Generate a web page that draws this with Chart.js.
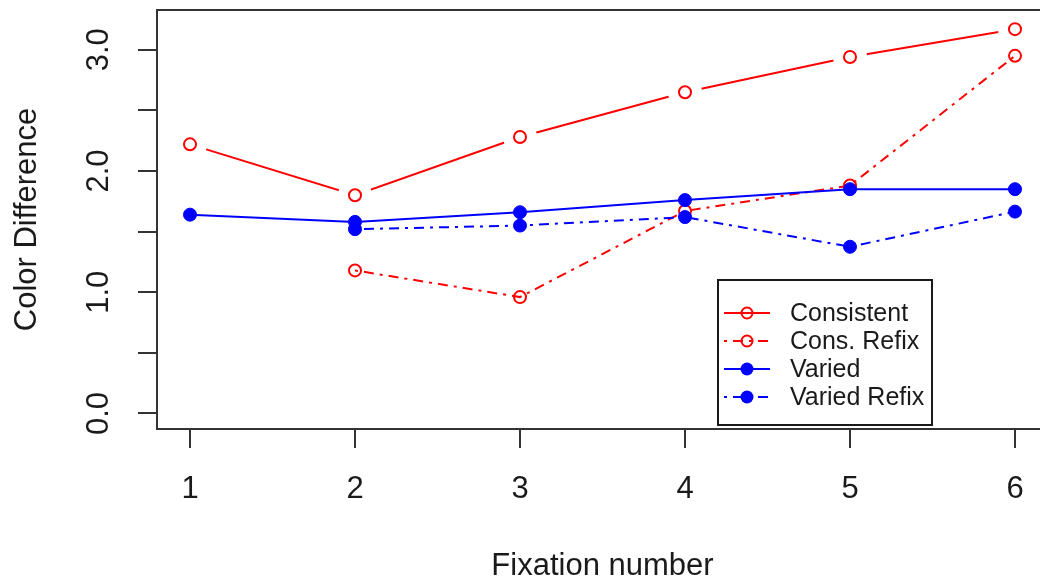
<!DOCTYPE html>
<html>
<head>
<meta charset="utf-8">
<title>Color Difference by Fixation number</title>
<script src="https://cdn.jsdelivr.net/npm/chart.js@4.4.1/dist/chart.umd.min.js"></script>
<style>
  html, body { margin: 0; padding: 0; background: #fff; overflow: hidden; }
  #wrap { width: 1060px; height: 585px; }
</style>
</head>
<body>
<div id="wrap"><canvas id="chart" width="1060" height="585"></canvas></div>
<script>
// data
const fixation = [1, 2, 3, 4, 5, 6];
const seriesNames = ["Consistent", "Cons. Refix", "Varied", "Varied Refix"];
const consistent  = [2.22, 1.80, 2.28, 2.65, 2.94, 3.17];
const consRefix   = [null, 1.18, 0.96, 1.67, 1.88, 2.95];
const varied      = [1.64, 1.58, 1.66, 1.76, 1.85, 1.85];
const variedRefix = [null, 1.52, 1.55, 1.62, 1.375, 1.665];
const seriesValues = [consistent, consRefix, varied, variedRefix];

// look of each series (R style: type "b" for Consistent, dotdash for refix)
const dotDash = [3, 6, 10, 6];
const styles = [
  {color: "#ff0000", dash: [], filled: false, gap: 17, order: 2},
  {color: "#ff0000", dash: dotDash, filled: false, gap: 0, order: 2},
  {color: "#0000ff", dash: [], filled: true, gap: 0, order: 1},
  {color: "#0000ff", dash: dotDash, filled: true, gap: 0, order: 1}
];
const legendAt = [4.2, 1.1];  // legend top-left, in data units
const font = "'Liberation Sans', Arial, sans-serif";
const ink = "#1a1a1a";

function toPoints(vals) {
  return fixation.map((x, i) => ({x: x, y: vals[i]}));
}

function markerOpts(s) {
  return {
    pointStyle: "circle",
    pointRadius: s.filled ? 6.5 : 6,
    pointHoverRadius: s.filled ? 6.5 : 6,
    pointBorderWidth: s.filled ? 1 : 2,
    pointBorderColor: s.color,
    pointBackgroundColor: s.filled ? s.color : "rgba(0,0,0,0)"
  };
}

let datasets = [];
seriesNames.forEach((name, i) => {
  const s = styles[i];
  const m = markerOpts(s);
  let line = Object.assign({
    label: name,
    data: toPoints(seriesValues[i]),
    borderColor: s.color,
    borderWidth: 2,
    borderDash: s.dash,
    fill: false,
    tension: 0,
    order: s.order,
    gap: s.gap
  }, m);
  if (s.gap) {
    // line with gaps around points, markers as a separate dataset
    line.pointRadius = 0;
    line.pointHoverRadius = 0;
    datasets.push(line);
    datasets.push(Object.assign({
      label: name + " points",
      data: toPoints(seriesValues[i]),
      showLine: false,
      order: s.order
    }, m));
  } else {
    datasets.push(line);
  }
});

// cut the line short around each point, like R type = "b"
const gapClip = {
  id: "gapClip",
  beforeDatasetDraw(chart, args) {
    const ds = chart.data.datasets[args.index];
    if (!ds.gap) return;
    const ctx = chart.ctx;
    ctx.save();
    ctx.beginPath();
    ctx.rect(0, 0, chart.width, chart.height);
    args.meta.data.forEach(p => {
      if (p.skip) return;
      ctx.moveTo(p.x + ds.gap, p.y);
      ctx.arc(p.x, p.y, ds.gap, 0, Math.PI * 2);
    });
    ctx.clip("evenodd");
  },
  afterDatasetDraw(chart, args) {
    if (chart.data.datasets[args.index].gap) chart.ctx.restore();
  }
};

// plot frame and boxed legend
const frameAndLegend = {
  id: "frameAndLegend",
  afterDraw(chart) {
    const ctx = chart.ctx;
    const a = chart.chartArea;
    ctx.save();
    ctx.setLineDash([]);
    ctx.strokeStyle = "#333";
    ctx.lineWidth = 2;
    ctx.strokeRect(a.left, a.top, a.right - a.left, a.bottom - a.top);

    const lx = Math.round(chart.scales.x.getPixelForValue(legendAt[0]));
    const ly = Math.round(chart.scales.y.getPixelForValue(legendAt[1]));
    const lw = 214, lh = 145, rowH = 28;
    ctx.fillStyle = "#fff";
    ctx.fillRect(lx, ly, lw, lh);
    ctx.strokeStyle = ink;
    ctx.strokeRect(lx, ly, lw, lh);

    ctx.font = "25px " + font;
    ctx.textBaseline = "middle";
    ctx.textAlign = "left";
    seriesNames.forEach((name, i) => {
      const s = styles[i];
      const y = ly + 33 + i * rowH;
      ctx.strokeStyle = s.color;
      ctx.lineWidth = 2;
      ctx.setLineDash(s.dash);
      ctx.beginPath();
      ctx.moveTo(lx + 6, y);
      ctx.lineTo(lx + 52, y);
      ctx.stroke();
      ctx.setLineDash([]);
      ctx.beginPath();
      if (s.filled) {
        ctx.arc(lx + 29, y, 6.5, 0, Math.PI * 2);
        ctx.fillStyle = s.color;
        ctx.fill();
      } else {
        ctx.arc(lx + 29, y, 5.5, 0, Math.PI * 2);
        ctx.stroke();
      }
      ctx.fillStyle = ink;
      ctx.fillText(name, lx + 72, y + 1);
    });
    ctx.restore();
  }
};

const tickFont = {family: font, size: 31};

new Chart(document.getElementById("chart"), {
  type: "line",
  data: {datasets: datasets},
  plugins: [gapClip, frameAndLegend],
  options: {
    responsive: false,
    animation: false,
    layout: {padding: {left: 0, top: 10, right: 12, bottom: 0}},
    plugins: {
      legend: {display: false},
      tooltip: {enabled: false}
    },
    scales: {
      x: {
        type: "linear",
        min: 0.8,
        max: 6.2,
        afterFit(scale) {
          scale.height = 156;
          scale.paddingLeft = 0;
          scale.paddingRight = 0;
        },
        ticks: {
          stepSize: 1,
          includeBounds: false,
          autoSkip: false,
          maxRotation: 0,
          padding: 23,
          color: ink,
          font: tickFont
        },
        grid: {
          drawOnChartArea: false,
          drawTicks: true,
          tickLength: 19,
          tickColor: "#333",
          tickWidth: 2,
          color: "#333",
          lineWidth: 2
        },
        border: {display: true, color: "#333", width: 2},
        title: {
          display: true,
          text: "Fixation number",
          color: ink,
          font: tickFont,
          padding: {top: 0, bottom: 0}
        }
      },
      y: {
        min: -0.128,
        max: 3.328,
        afterFit(scale) {
          scale.width = 157;
          scale.paddingTop = 0;
          scale.paddingBottom = 0;
        },
        ticks: {
          stepSize: 0.5,
          includeBounds: false,
          autoSkip: false,
          minRotation: 90,
          maxRotation: 90,
          crossAlign: "center",
          padding: 17,
          color: ink,
          font: tickFont,
          callback: v => (Math.abs(v - Math.round(v)) < 1e-9 ? v.toFixed(1) : "")
        },
        grid: {
          drawOnChartArea: false,
          drawTicks: true,
          tickLength: 19,
          tickColor: "#333",
          tickWidth: 2,
          color: "#333",
          lineWidth: 2
        },
        border: {display: true, color: "#333", width: 2},
        title: {
          display: true,
          text: "Color Difference",
          color: ink,
          font: tickFont,
          padding: {top: 9, bottom: 0}
        }
      }
    }
  }
});
</script>
</body>
</html>
